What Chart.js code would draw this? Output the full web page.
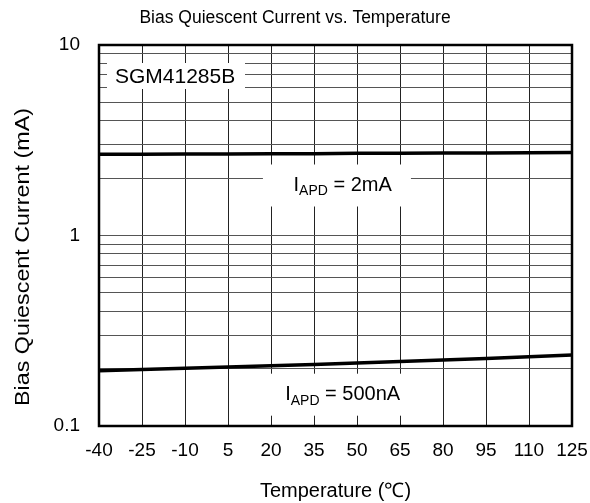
<!DOCTYPE html>
<html>
<head>
<style>
  body { margin: 0; background: #fff; }
</style>
</head>
<body>
<canvas id="myChart" width="590" height="503"></canvas>

<script src="https://cdn.jsdelivr.net/npm/chart.js"></script>
<script>
// temperature points (°C) and tick labels
let temps = [-40, -25, -10, 5, 20, 35, 50, 65, 80, 95, 110, 125];
let xTicks = [-40, -25, -10, 5, 20, 35, 50, 65, 80, 95, 110, 125];
let yTicks = [0.1, 0.2, 0.3, 0.4, 0.5, 0.6, 0.7, 0.8, 0.9, 1, 2, 3, 4, 5, 6, 7, 8, 9, 10];
let yLabels = [0.1, 1, 10];

// bias quiescent current (mA)
let iq2mA = [2.67, 2.67, 2.68, 2.68, 2.69, 2.69, 2.70, 2.70, 2.71, 2.71, 2.72, 2.73];
let iq500nA = [0.195, 0.198, 0.201, 0.204, 0.207, 0.210, 0.214, 0.218, 0.222, 0.226, 0.231, 0.236];

const FONT = 'Liberation Sans, Arial, sans-serif';
const Y_TITLE = 'Bias Quiescent Current (mA)';

function toPoints(ys) {
  return temps.map((t, i) => ({ x: t, y: ys[i] }));
}

// white label boxes sitting on top of the grid, under the curves
const labelsPlugin = {
  id: 'labels',
  beforeDatasetsDraw(chart) {
    const ctx = chart.ctx;
    const a = chart.chartArea;
    const xs = chart.scales.x, ys = chart.scales.y;
    ctx.save();
    ctx.fillStyle = '#fff';
    ctx.fillRect(a.left + 8, a.top + 18, 138, 26);
    ctx.fillStyle = '#000';
    ctx.font = '21px ' + FONT;
    ctx.textBaseline = 'middle';
    ctx.textAlign = 'left';
    ctx.fillText('SGM41285B', a.left + 16, a.top + 32);

    const drawIapd = (val, rest) => {
      const cy = ys.getPixelForValue(val);
      const bx = xs.getPixelForValue(43);
      ctx.fillStyle = '#fff';
      ctx.fillRect(bx - 74, cy - 21, 148, 42);
      const cx = xs.getPixelForValue(45);
      ctx.fillStyle = '#000';
      ctx.font = '20px ' + FONT;
      const w1 = ctx.measureText('I').width;
      ctx.font = '14px ' + FONT;
      const w2 = ctx.measureText('APD').width;
      ctx.font = '20px ' + FONT;
      const w3 = ctx.measureText(rest).width;
      let x = cx - (w1 + w2 + w3) / 2;
      ctx.textAlign = 'left';
      ctx.fillText('I', x, cy);
      x += w1;
      ctx.font = '14px ' + FONT;
      ctx.fillText('APD', x, cy + 6);
      x += w2;
      ctx.font = '20px ' + FONT;
      ctx.fillText(rest, x, cy);
    };
    drawIapd(1.83, ' = 2mA');
    drawIapd(0.146, ' = 500nA');
    ctx.restore();
  },
  afterDraw(chart) {
    const ctx = chart.ctx;
    const a = chart.chartArea;
    ctx.save();
    ctx.strokeStyle = '#000';
    ctx.lineWidth = 2.5;
    ctx.strokeRect(a.left, a.top, a.right - a.left, a.bottom - a.top);

    // y axis title, a bit longer than the plain font gives
    ctx.translate(23, 257);
    ctx.rotate(-Math.PI / 2);
    ctx.font = '21px ' + FONT;
    const w = ctx.measureText(Y_TITLE).width;
    ctx.scale(298 / w, 1);
    ctx.fillStyle = '#000';
    ctx.textAlign = 'center';
    ctx.textBaseline = 'middle';
    ctx.fillText(Y_TITLE, 0, 0);
    ctx.restore();
  }
};

let ctx = document.getElementById('myChart').getContext('2d');
let chart = new Chart(ctx, {
  type: 'line',
  data: {
    datasets: [{
      label: 'IAPD = 2mA',
      data: toPoints(iq2mA),
      borderColor: '#000',
      borderWidth: 3.5,
      pointRadius: 0,
      tension: 0
    }, {
      label: 'IAPD = 500nA',
      data: toPoints(iq500nA),
      borderColor: '#000',
      borderWidth: 3.5,
      pointRadius: 0,
      tension: 0
    }]
  },
  options: {
    responsive: false,
    animation: false,
    layout: { padding: 0 },
    plugins: {
      legend: { display: false },
      tooltip: { enabled: false },
      title: {
        display: true,
        text: 'Bias Quiescent Current vs. Temperature',
        color: '#000',
        font: { family: FONT, size: 17.5, weight: 'normal' },
        padding: { top: 7.5, bottom: 16.5 }
      }
    },
    scales: {
      x: {
        type: 'linear',
        min: -40,
        max: 125,
        afterBuildTicks: (scale) => { scale.ticks = xTicks.map(v => ({ value: v })); },
        afterFit: (scale) => { scale.height = 77; scale.paddingRight = 18; },
        grid: { color: '#222', lineWidth: 1, drawTicks: false },
        border: { display: false },
        ticks: {
          color: '#000',
          font: { family: FONT, size: 19 },
          padding: 13,
          autoSkip: false,
          maxRotation: 0
        },
        title: {
          display: true,
          text: 'Temperature (℃)',
          color: '#000',
          font: { family: FONT, size: 20 },
          padding: { top: 0, bottom: 0 }
        }
      },
      y: {
        type: 'logarithmic',
        min: 0.1,
        max: 10,
        afterBuildTicks: (scale) => { scale.ticks = yTicks.map(v => ({ value: v })); },
        afterFit: (scale) => { scale.width = 99; },
        grid: { color: '#555', lineWidth: 1, drawTicks: false },
        border: { display: false },
        ticks: {
          color: '#000',
          font: { family: FONT, size: 19 },
          padding: 19,
          autoSkip: false,
          callback: (v) => yLabels.includes(v) ? String(v) : ''
        }
      }
    }
  },
  plugins: [labelsPlugin]
});
</script>

</body>
</html>
